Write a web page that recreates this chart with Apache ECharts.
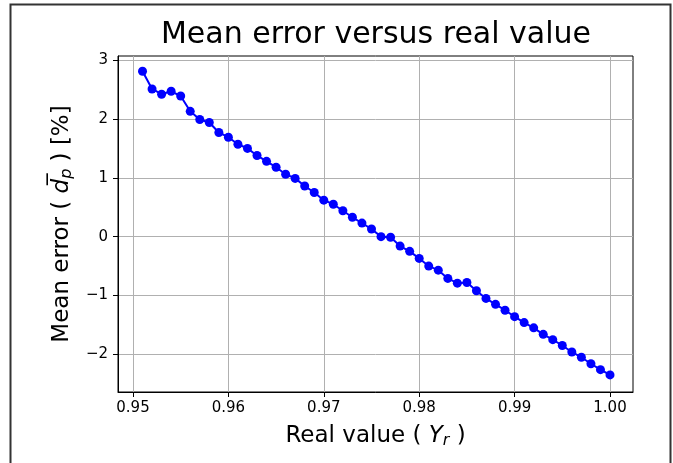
<!DOCTYPE html>
<html>
<head>
<meta charset="utf-8">
<script src="https://cdn.jsdelivr.net/npm/echarts@6/dist/echarts.min.js"></script>
<style>
  html, body { margin: 0; padding: 0; background: #fff; }
  #chart { width: 673px; height: 463px; }
</style>
</head>
<body>
<div id="chart"></div>
<script>
// real value (x) and mean error in % (y)
var realValues = [
    0.951, 0.952, 0.953, 0.954, 0.955, 0.956, 0.957, 0.958, 0.959, 0.960,
    0.961, 0.962, 0.963, 0.964, 0.965, 0.966, 0.967, 0.968, 0.969, 0.970,
    0.971, 0.972, 0.973, 0.974, 0.975, 0.976, 0.977, 0.978, 0.979, 0.980,
    0.981, 0.982, 0.983, 0.984, 0.985, 0.986, 0.987, 0.988, 0.989, 0.990,
    0.991, 0.992, 0.993, 0.994, 0.995, 0.996, 0.997, 0.998, 0.999, 1.000
];
var meanErrors = [
    2.81, 2.51, 2.42, 2.47, 2.39, 2.13, 1.99, 1.94, 1.77, 1.69,
    1.57, 1.50, 1.38, 1.28, 1.18, 1.06, 0.99, 0.86, 0.75, 0.62,
    0.55, 0.44, 0.33, 0.23, 0.13, 0.00, -0.01, -0.16, -0.25, -0.37,
    -0.50, -0.57, -0.71, -0.79, -0.78, -0.92, -1.05, -1.15, -1.25, -1.36,
    -1.46, -1.55, -1.66, -1.75, -1.85, -1.96, -2.05, -2.16, -2.26, -2.35
];
var xTicks = [0.95, 0.96, 0.97, 0.98, 0.99, 1.00];
var yTicks = [-2, -1, 0, 1, 2, 3];

var points = realValues.map(function (x, i) { return [x, meanErrors[i]]; });

var chart = echarts.init(document.getElementById('chart'));
var font = 'DejaVu Sans';

var option = {
    animation: false,
    backgroundColor: '#fff',
    title: {
        text: 'Mean error versus real value',
        left: 376,
        top: 20,
        padding: 0,
        textAlign: 'center',
        textStyle: { fontFamily: font, fontSize: 30, fontWeight: 'normal', color: '#000' }
    },
    // outer frame of the figure
    graphic: [{
        type: 'rect',
        shape: { x: 10.5, y: 4.5, width: 660, height: 480 },
        style: { fill: null, stroke: '#333', lineWidth: 2 },
        silent: true
    }],
    grid: {
        left: 118, right: 40, top: 56, bottom: 71,
        show: true, borderColor: '#000', borderWidth: 1,
        containLabel: false
    },
    xAxis: {
        type: 'value',
        min: 0.94843,
        max: 1.00241,
        name: 'Real value ( {i|Y}{s|r} )',
        nameLocation: 'middle',
        nameGap: 32,
        nameTextStyle: {
            fontFamily: font, fontSize: 23, color: '#000',
            rich: {
                i: { fontFamily: font, fontSize: 23, fontStyle: 'italic', color: '#000' },
                s: { fontFamily: font, fontSize: 16, fontStyle: 'italic', color: '#000', verticalAlign: 'bottom', padding: [9, 0, 0, 0] }
            }
        },
        axisLine: { show: true, onZero: false, lineStyle: { color: '#000', width: 1 } },
        axisTick: { show: true, length: 5, inside: false, customValues: xTicks, lineStyle: { color: '#000' } },
        axisLabel: {
            customValues: xTicks,
            margin: 9,
            fontFamily: font, fontSize: 15, color: '#000',
            formatter: function (v) { return v.toFixed(2); }
        },
        splitLine: { show: true, lineStyle: { color: '#b0b0b0', width: 1 } }
    },
    yAxis: {
        type: 'value',
        min: -2.64,
        max: 3.07,
        name: 'Mean error ( {d|d\u0305}{s|p} ) [%]',
        nameLocation: 'middle',
        nameRotate: 90,
        nameGap: 40,
        nameTextStyle: {
            fontFamily: font, fontSize: 23, color: '#000',
            rich: {
                d: { fontFamily: font, fontSize: 23, fontStyle: 'italic', color: '#000' },
                s: { fontFamily: font, fontSize: 16, fontStyle: 'italic', color: '#000', verticalAlign: 'bottom', padding: [9, 0, 0, 0] }
            }
        },
        axisLine: { show: true, onZero: false, lineStyle: { color: '#000', width: 1 } },
        axisTick: { show: true, length: 5, inside: false, customValues: yTicks, lineStyle: { color: '#000' } },
        axisLabel: {
            customValues: yTicks,
            margin: 10,
            fontFamily: font, fontSize: 15, color: '#000',
            formatter: function (v) { return v < 0 ? '\u2212' + Math.abs(v) : String(v); }
        },
        splitLine: { show: true, lineStyle: { color: '#b0b0b0', width: 1 } }
    },
    series: [{
        type: 'line',
        data: points,
        symbol: 'circle',
        symbolSize: 9,
        lineStyle: { color: '#0000ff', width: 2 },
        itemStyle: { color: '#0000ff' }
    }]
};

chart.setOption(option);
</script>
</body>
</html>
